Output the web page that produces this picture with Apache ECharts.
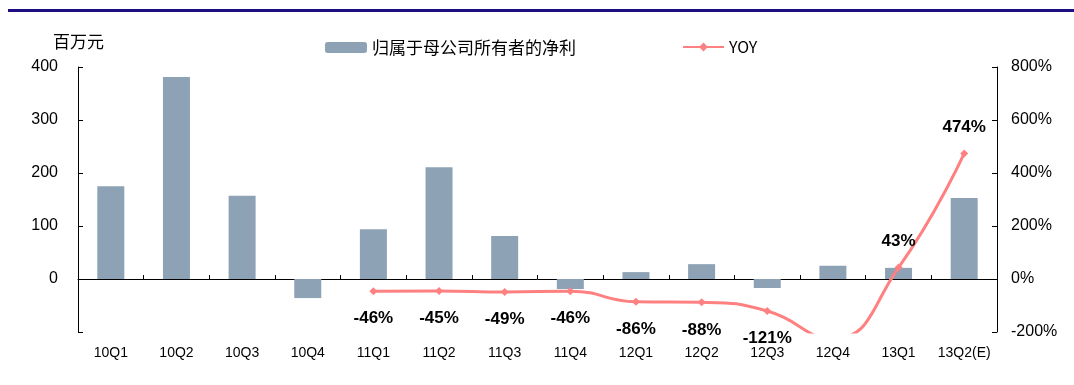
<!DOCTYPE html>
<html><head><meta charset="utf-8">
<script src="https://cdn.jsdelivr.net/npm/echarts@6/dist/echarts.min.js"></script>
<style>html,body{margin:0;padding:0;background:#fff}#c{width:1074px;height:385px}</style>
</head><body><div id="c"></div>
<script>
const categories = ['10Q1','10Q2','10Q3','10Q4','11Q1','11Q2','11Q3','11Q4','12Q1','12Q2','12Q3','12Q4','13Q1','13Q2(E)'];
const profit = [175, 381, 157, -36, 94, 211, 81, -19, 13, 28, -17, 25, 21, 153];
const yoy = [null, null, null, null, -46, -45, -49, -46, -86, -88, -121, -225, 43, 474];
const leftTicks = {min: -100, max: 400, interval: 100};
const rightTicks = {min: -200, max: 800, interval: 200};
const barName = '归属于母公司所有者的净利';
const lineName = 'YOY';
const unitLabel = '百万元';

const chart = echarts.init(document.getElementById('c'), null, {renderer: 'canvas'});
const axisFont = 'Liberation Sans, Arial, sans-serif';
const cjkFont = 'Noto Sans CJK SC, sans-serif';
const lineData = yoy.map(v => {
  if (v === null) return null;
  if (v > 0) return {value: v, label: {position: 'top', distance: 14}};
  if (v < rightTicks.min) return {value: v, label: {show: false}};
  return v;
});
chart.setOption({
  animation: false,
  graphic: [
    {type: 'rect', left: 8, top: 9, shape: {width: 1066, height: 3}, style: {fill: '#1E0E86'}},
    {type: 'text', left: 53, top: 33, style: {text: unitLabel, font: '17px ' + cjkFont, fill: '#000'}}
  ],
  legend: [
    {data: [barName], left: 320, top: 34, itemWidth: 42, itemHeight: 11, itemGap: 6,
     textStyle: {fontFamily: cjkFont, fontSize: 17, color: '#000'}},
    {data: [lineName], left: 677, top: 34, itemWidth: 41, itemHeight: 11, itemGap: 6,
     textStyle: {fontFamily: cjkFont, fontSize: 16, color: '#000'}}
  ],
  grid: {left: 78, right: 77, top: 67, bottom: 53, containLabel: false},
  xAxis: [
    {type: 'category', data: categories, position: 'bottom',
     axisLine: {show: false, onZero: false}, axisTick: {show: false},
     axisLabel: {interval: 0, margin: 14, fontFamily: axisFont, fontSize: 14, color: '#000'}},
    {type: 'category', data: categories, position: 'bottom',
     axisLine: {show: true, onZero: true, lineStyle: {color: '#000', width: 1}},
     axisTick: {show: true, inside: true, interval: 0, length: 4, lineStyle: {color: '#000'}},
     axisLabel: {show: false}}
  ],
  yAxis: [
    {type: 'value', min: leftTicks.min, max: leftTicks.max, interval: leftTicks.interval,
     splitLine: {show: false},
     axisLine: {show: true, lineStyle: {color: '#000'}},
     axisTick: {show: true, inside: true, length: 5, lineStyle: {color: '#000'}},
     axisLabel: {margin: 20, fontFamily: axisFont, fontSize: 16, color: '#000',
       formatter: v => v === leftTicks.min ? '' : String(v)}},
    {type: 'value', min: rightTicks.min, max: rightTicks.max, interval: rightTicks.interval,
     splitLine: {show: false},
     axisLine: {show: true, lineStyle: {color: '#000'}},
     axisTick: {show: true, inside: true, length: 5, lineStyle: {color: '#000'}},
     axisLabel: {margin: 14, fontFamily: axisFont, fontSize: 16, color: '#000', formatter: '{value}%'}}
  ],
  series: [
    {name: barName, type: 'bar', data: profit, xAxisIndex: 0, yAxisIndex: 0,
     barWidth: 27, itemStyle: {color: '#8DA2B5'}},
    {name: lineName, type: 'line', data: lineData, xAxisIndex: 0, yAxisIndex: 1,
     smooth: 0.5, clip: true, symbol: 'diamond', symbolSize: 8,
     lineStyle: {color: '#FF8080', width: 3}, itemStyle: {color: '#FF8080'},
     label: {show: true, fontFamily: axisFont, fontSize: 17, fontWeight: 'bold', color: '#000',
       formatter: p => p.value + '%',
       position: 'bottom', distance: 15}}
  ]
});
</script></body></html>
